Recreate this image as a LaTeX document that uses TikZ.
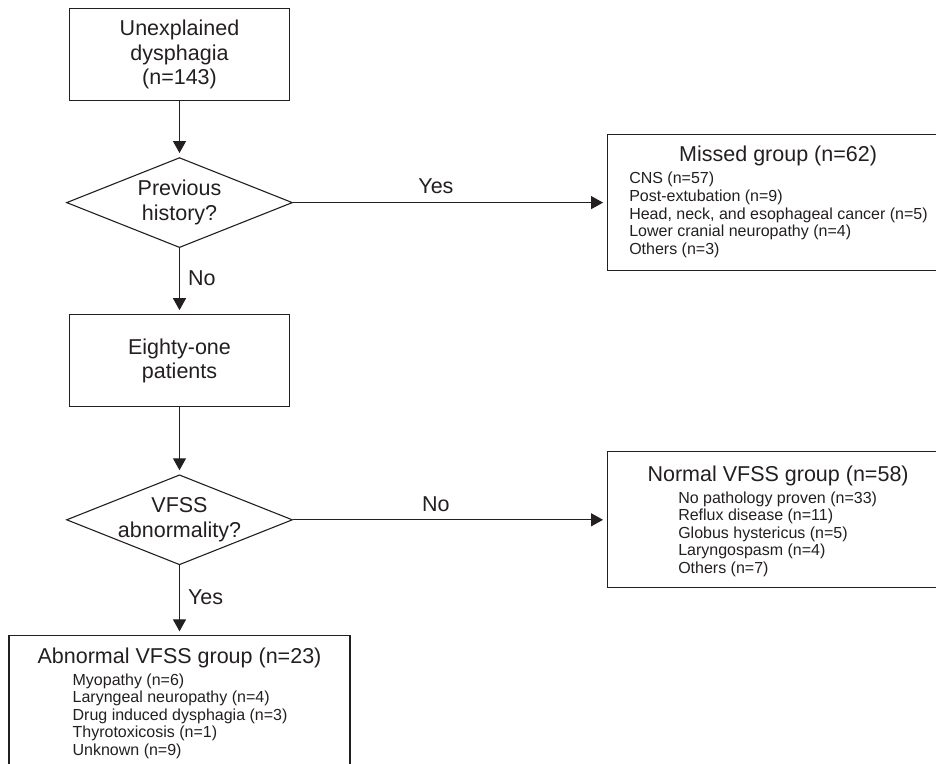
\documentclass[tikz,border=0pt]{standalone}
\usepackage{fontspec}
\setmainfont{Liberation Sans}
\usepackage{tikz}
\usetikzlibrary{positioning,shapes.geometric,arrows.meta,calc}
\definecolor{ink}{HTML}{231F20}
\newcommand{\flowfont}{\fontsize{21.5}{24.5}\selectfont}
\newcommand{\itemfont}{\fontsize{16}{17.6}\selectfont}
\tikzset{
    stepbox/.style={rectangle, draw=ink, line width=1.1pt, minimum width=220pt, minimum height=92pt, inner sep=0pt, align=center, font=\flowfont, text=ink},
    decision/.style={diamond, draw=ink, line width=1.1pt, minimum width=226pt, minimum height=90pt, aspect=2.5, inner sep=-5pt, align=center, font=\flowfont, text=ink},
    groupbox/.style={rectangle, draw=ink, line width=1.1pt, minimum width=341pt, minimum height=136pt, inner sep=0pt},
    grouptitle/.style={inner sep=0pt, font=\flowfont, text=ink},
    grouplist/.style={anchor=north west, inner sep=0pt, align=left, font=\itemfont, text=ink},
    edgelabel/.style={inner sep=0pt, font=\flowfont, text=ink},
    arrow/.style={-{Triangle[length=12pt,width=13pt]}, line width=1.1pt, draw=ink, shorten >=4pt}
}

\begin{document}
\begin{tikzpicture}[x=1pt, y=-1pt]
\useasboundingbox (0,0) rectangle (936,763);

% main flow
\node[stepbox] (start) at (179.5,54.5) {Unexplained\\dysphagia\\(n=143)};
\node[decision, below=56pt of start] (history) {Previous\\history?};
\node[stepbox, below=66pt of history] (patients) {Eighty-one\\patients};
\node[decision, below=67pt of patients] (vfss) {VFSS\\abnormality?};

% groups
\node[groupbox, right=314pt of history] (missed) {};
\node[groupbox, right=314pt of vfss] (normal) {};
\node[groupbox, below=70pt of vfss] (abnormal) {};

\node[grouptitle] (missedtitle) at ($(missed.north)+(0,22)$) {Missed group (n=62)};
\node[grouplist] (missedlist) at ($(missed.north west)+(22,38)$) {CNS (n=57)\\Post-extubation (n=9)\\Head, neck, and esophageal cancer (n=5)\\Lower cranial neuropathy (n=4)\\Others (n=3)};

\node[grouptitle] (normaltitle) at ($(normal.north)+(0,25)$) {Normal VFSS group (n=58)};
\node[grouplist] (normallist) at ($(normal.north west)+(71,40)$) {No pathology proven (n=33)\\Reflux disease (n=11)\\Globus hystericus (n=5)\\Laryngospasm (n=4)\\Others (n=7)};

\node[grouptitle] (abnormaltitle) at ($(abnormal.north)+(0,23)$) {Abnormal VFSS group (n=23)};
\node[grouplist] (abnormallist) at ($(abnormal.north west)+(64,38)$) {Myopathy (n=6)\\Laryngeal neuropathy (n=4)\\Drug induced dysphagia (n=3)\\Thyrotoxicosis (n=1)\\Unknown (n=9)};

% connectors
\draw[arrow] (start) -- (history);
\draw[arrow] (history) -- node[edgelabel, above=8pt, pos=0.455] {Yes} (missed);
\draw[arrow] (history) -- node[edgelabel, right=8pt, pos=0.45] {No} (patients);
\draw[arrow] (patients) -- (vfss);
\draw[arrow] (vfss) -- node[edgelabel, above=8pt, pos=0.455] {No} (normal);
\draw[arrow] (vfss) -- node[edgelabel, right=8pt, pos=0.46] {Yes} (abnormal);

\end{tikzpicture}
\end{document}
